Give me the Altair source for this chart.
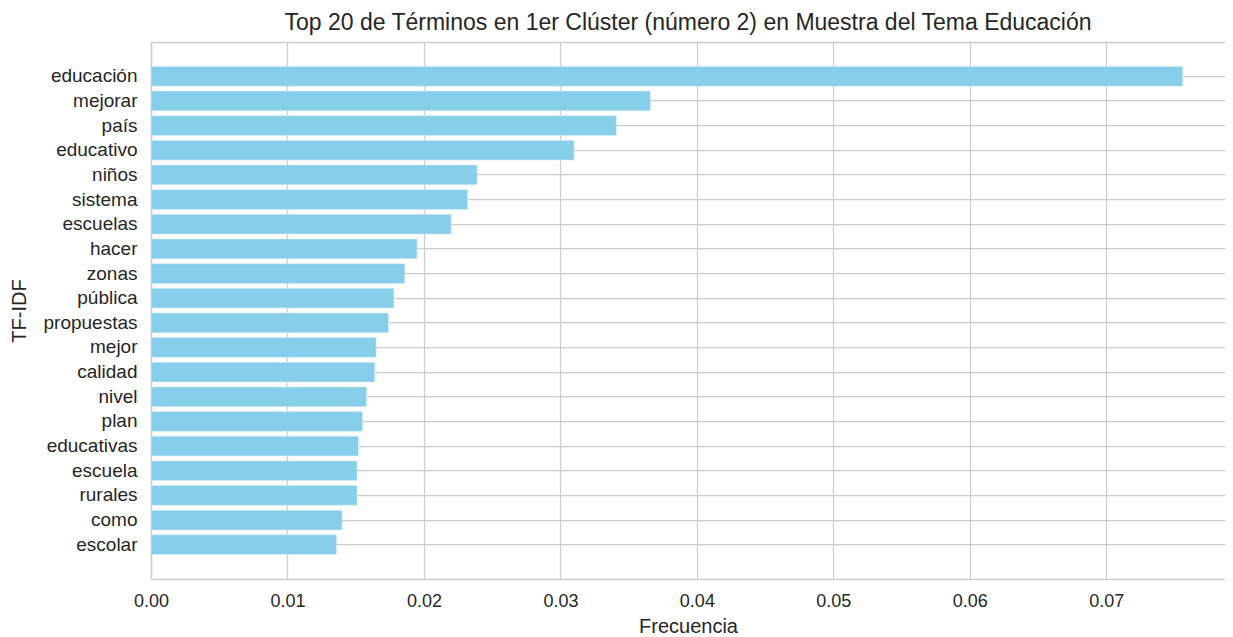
import altair as alt
import pandas as pd

terms = ["educación", "mejorar", "país", "educativo", "niños", "sistema", "escuelas",
         "hacer", "zonas", "pública", "propuestas", "mejor", "calidad", "nivel", "plan",
         "educativas", "escuela", "rurales", "como", "escolar"]
values = [0.0756, 0.0366, 0.0341, 0.0310, 0.0239, 0.0232, 0.0220,
          0.0195, 0.0186, 0.0178, 0.0174, 0.0165, 0.0164, 0.0158, 0.0155,
          0.0152, 0.0151, 0.0151, 0.0140, 0.0136]
x_ticks = [0.0, 0.01, 0.02, 0.03, 0.04, 0.05, 0.06, 0.07]

df = pd.DataFrame({"term": terms, "value": values})

FONT = "Liberation Sans"
TXT = "#262626"
GRID = "#cccccc"

xscale = alt.Scale(domain=[0, 0.0787], nice=False, zero=True)

base = alt.Chart(df).encode(
    y=alt.Y("term:N", sort=terms,
            scale=alt.Scale(paddingInner=0.2, paddingOuter=0.99),
            axis=alt.Axis(title="TF-IDF", grid=True, gridColor=GRID, gridWidth=1.25,
                          bandPosition=0.5, ticks=False,
                          domain=True, domainColor=GRID, domainWidth=1.5,
                          labelFont=FONT, labelFontSize=19, labelColor=TXT, labelPadding=14,
                          titleFont=FONT, titleFontSize=20, titleFontWeight="normal",
                          titleColor=TXT, titlePadding=13)),
)

bars = base.mark_bar(color="#87CEEB", stroke="#d6eef8", strokeWidth=0.6).encode(
    x=alt.X("value:Q", scale=xscale,
            axis=alt.Axis(title="Frecuencia", values=x_ticks, format=".2f",
                          grid=True, gridColor=GRID, gridWidth=1.25,
                          ticks=False, domain=True, domainColor=GRID, domainWidth=1.5,
                          labelFont=FONT, labelFontSize=18, labelColor=TXT, labelPadding=13,
                          labelFlush=False,
                          titleFont=FONT, titleFontSize=20, titleFontWeight="normal",
                          titleColor=TXT, titlePadding=6)),
)

top_spine = base.mark_bar(opacity=0).encode(
    x=alt.X("value:Q", scale=xscale,
            axis=alt.Axis(orient="top", title=None, labels=False, ticks=False, grid=False,
                          domain=True, domainColor=GRID, domainWidth=1.5)),
)

chart = alt.layer(bars, top_spine).resolve_axis(x="independent").properties(
    width=1074,
    height=537,
    title=alt.TitleParams(
        "Top 20 de Términos en 1er Clúster (número 2) en Muestra del Tema Educación",
        font=FONT, fontSize=23, fontWeight="normal", color=TXT,
        anchor="middle", offset=7),
    autosize=alt.AutoSizeParams(type="none"),
    padding={"left": 143, "top": 34, "right": 0, "bottom": 56},
).configure_view(
    strokeOpacity=0
)

chart.save("out.html", embed_options={"renderer": "svg", "actions": False})
